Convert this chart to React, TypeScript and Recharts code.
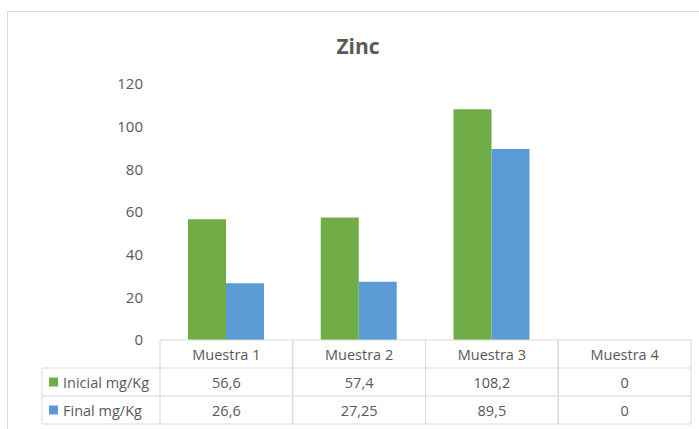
import React from 'react';
import { BarChart, Bar, XAxis, YAxis } from 'recharts';

const categories = ['Muestra 1', 'Muestra 2', 'Muestra 3', 'Muestra 4'];
const inicial = [56.6, 57.4, 108.2, 0];
const final = [26.6, 27.25, 89.5, 0];
const yTicks = [0, 20, 40, 60, 80, 100, 120];
const seriesNames = ['Inicial mg/Kg', 'Final mg/Kg'];

const data = categories.map((name, i) => ({ name, inicial: inicial[i], final: final[i] }));

const W = 699;
const H = 429;
const M = { top: 84, right: 8, bottom: 0, left: 0 };
const Y_AXIS_W = 160;
const X_AXIS_H = 89;
const PLOT_BOTTOM = H - X_AXIS_H;
const BAND = (W - M.right - Y_AXIS_W) / categories.length;
const ROW_H = 28;
const GRID = '#d9d9d9';
const TXT = '#595959';
const FONT = '"Open Sans", "Noto Sans", sans-serif';
const GREEN = '#70ad47';
const BLUE = '#5b9bd5';
const FS = 14.5;

const fmt = (v: number) => String(v).replace('.', ',');

const TableTick = (props: any) => {
  const { x, payload, index } = props;
  const left = x - BAND / 2;
  const right = x + BAND / 2;
  const t0 = PLOT_BOTTOM;
  const t1 = t0 + ROW_H;
  const t2 = t1 + ROW_H;
  const t3 = t2 + ROW_H;
  const textProps = { fill: TXT, fontSize: FS, fontFamily: FONT, textAnchor: 'middle' as const, dominantBaseline: 'central' as const };
  const rowX0 = 42;
  return (
    <g>
      <line x1={left} x2={right} y1={t0} y2={t0} stroke={GRID} />
      <line x1={left} x2={right} y1={t1} y2={t1} stroke={GRID} />
      <line x1={left} x2={right} y1={t2} y2={t2} stroke={GRID} />
      <line x1={left} x2={right} y1={t3} y2={t3} stroke={GRID} />
      <line x1={left} x2={left} y1={t0} y2={t3} stroke={GRID} />
      <line x1={right} x2={right} y1={t0} y2={t3} stroke={GRID} />
      <text x={x} y={(t0 + t1) / 2} {...textProps}>{payload.value}</text>
      <text x={x} y={(t1 + t2) / 2} {...textProps}>{fmt(inicial[index])}</text>
      <text x={x} y={(t2 + t3) / 2} {...textProps}>{fmt(final[index])}</text>
      {index === 0 && (
        <g>
          <line x1={rowX0} x2={left} y1={t1} y2={t1} stroke={GRID} />
          <line x1={rowX0} x2={left} y1={t2} y2={t2} stroke={GRID} />
          <line x1={rowX0} x2={left} y1={t3} y2={t3} stroke={GRID} />
          <line x1={rowX0} x2={rowX0} y1={t1} y2={t3} stroke={GRID} />
          <rect x={rowX0 + 7} y={(t1 + t2) / 2 - 4.5} width={9} height={9} fill={GREEN} />
          <rect x={rowX0 + 7} y={(t2 + t3) / 2 - 4.5} width={9} height={9} fill={BLUE} />
          <text x={rowX0 + 21} y={(t1 + t2) / 2} fill={TXT} fontSize={FS} fontFamily={FONT} dominantBaseline="central">{seriesNames[0]}</text>
          <text x={rowX0 + 21} y={(t2 + t3) / 2} fill={TXT} fontSize={FS} fontFamily={FONT} dominantBaseline="central">{seriesNames[1]}</text>
        </g>
      )}
    </g>
  );
};

export default function App() {
  return (
    <div style={{ position: 'fixed', left: 0, top: 0, width: W, height: H, background: '#fff', overflow: 'hidden' }}>
      <div style={{ position: 'absolute', left: 7, top: 11, width: W, height: H, border: `1px solid ${GRID}`, boxSizing: 'border-box' }} />
      <div style={{ position: 'absolute', left: 0, top: 30, width: 716, textAlign: 'center', fontFamily: FONT, fontWeight: 700, fontSize: 21, color: TXT, lineHeight: '32px' }}>Zinc</div>
      <div style={{ position: 'absolute', left: 0, top: 0 }}>
        <BarChart width={W} height={H} data={data} margin={M} barGap={0} barSize={38}>
          <YAxis
            type="number"
            domain={[0, 120]}
            ticks={yTicks}
            width={Y_AXIS_W}
            axisLine={false}
            tickLine={false}
            tickSize={0}
            tickMargin={17}
            tick={{ fill: TXT, fontSize: 15, fontFamily: FONT }}
          />
          <XAxis
            dataKey="name"
            height={X_AXIS_H}
            axisLine={false}
            tickLine={false}
            interval={0}
            tick={<TableTick />}
          />
          <Bar dataKey="inicial" fill={GREEN} isAnimationActive={false} />
          <Bar dataKey="final" fill={BLUE} isAnimationActive={false} />
        </BarChart>
      </div>
    </div>
  );
}
